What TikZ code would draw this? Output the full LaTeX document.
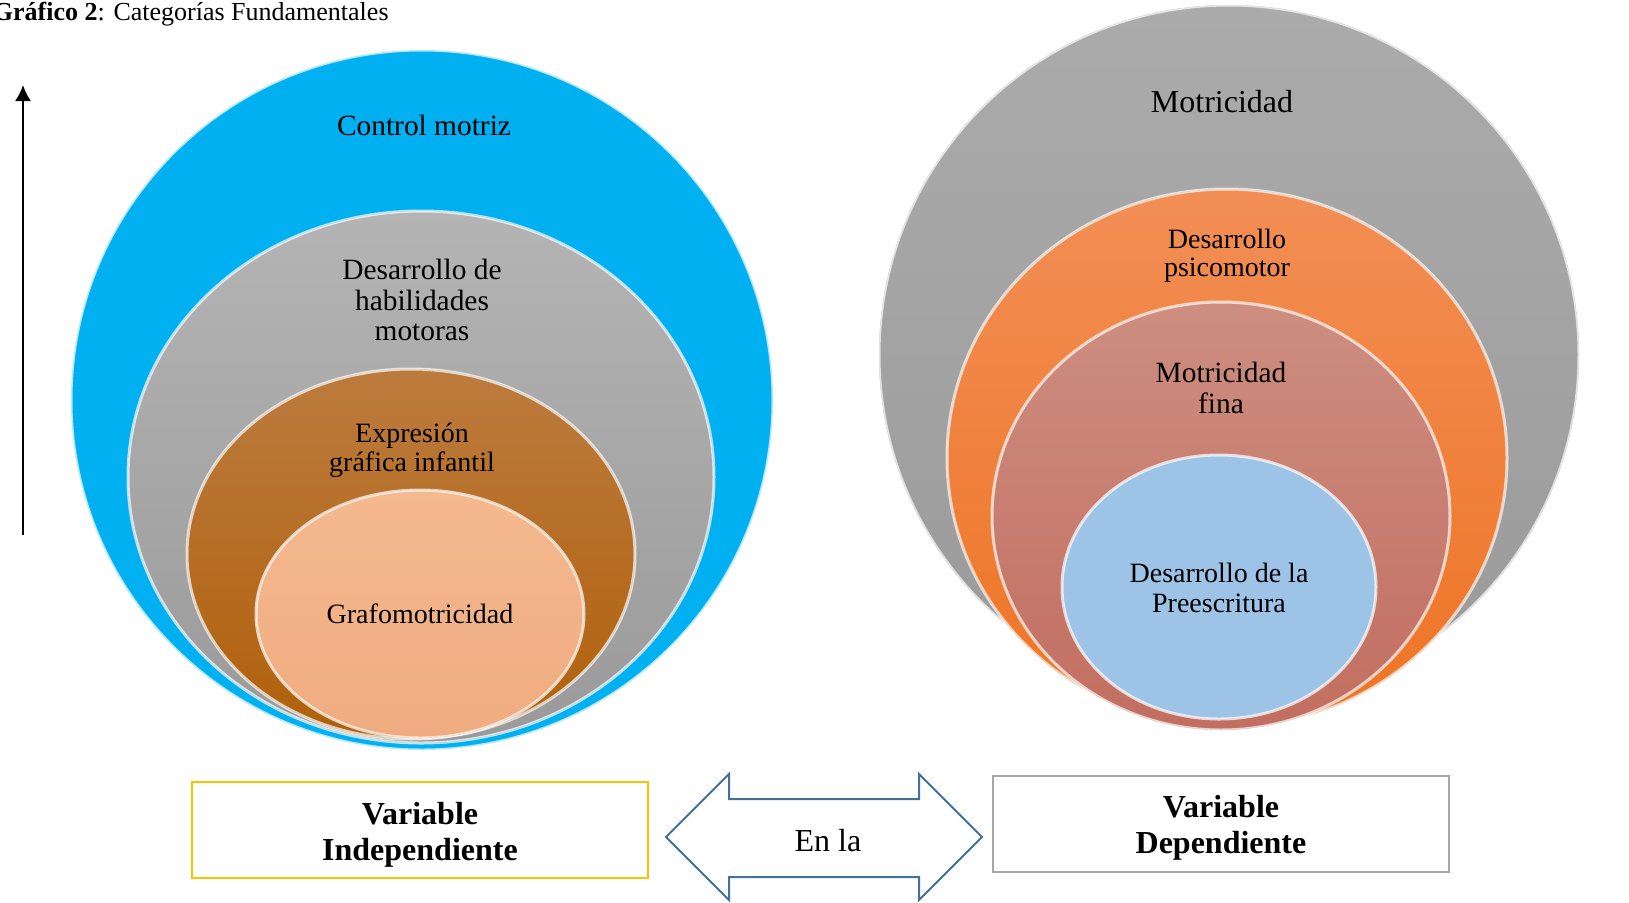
\documentclass[tikz,border=0pt]{standalone}
\usepackage{fontspec}
\setmainfont{Liberation Serif}
\usepackage{tikz}
\usetikzlibrary{arrows.meta}

\definecolor{cielo}{HTML}{00B0F0}
\definecolor{grisT}{HTML}{B4B4B4}
\definecolor{grisB}{HTML}{9A9A9A}
\definecolor{cafeT}{HTML}{BC7B3E}
\definecolor{cafeB}{HTML}{B0600A}
\definecolor{duraznoT}{HTML}{F5B98F}
\definecolor{duraznoB}{HTML}{F0AC80}
\definecolor{naranjaT}{HTML}{F28E55}
\definecolor{naranjaB}{HTML}{EE7424}
\definecolor{rosaT}{HTML}{CD8E80}
\definecolor{rosaB}{HTML}{C26E60}
\definecolor{celeste}{HTML}{9DC3E6}
\definecolor{flecha}{HTML}{41719C}
\definecolor{amarillo}{HTML}{FFC000}
\definecolor{grisCaja}{HTML}{A6A6A6}

\begin{document}
\begin{tikzpicture}[x=0.5pt, y=-0.5pt,
    capa/.style={draw=white, draw opacity=0.7, line width=1.5pt},
    lbl/.style={align=center, inner sep=0pt, font=\fontsize{14}{14.6}\selectfont},
    lblg/.style={align=center, inner sep=0pt, font=\fontsize{14.7}{15.3}\selectfont},
    varbox/.style={draw, line width=1.2pt, minimum width=228pt, minimum height=48pt, align=center, font=\fontsize{16}{18.2}\selectfont\bfseries}]
    \useasboundingbox (0,0) rectangle (1629,902);

    \node[anchor=base east, inner sep=0pt, font=\fontsize{13}{15}\selectfont] (titulo) at (389,20) {\textbf{Gráfico 2}: Categorías Fundamentales};

    \coordinate (ejeabajo) at (23,535);
    \coordinate (ejearriba) at (23,85);
    \draw[line width=1pt, -{Latex[length=8pt,width=8pt]}] (ejeabajo) -- (ejearriba);

    \filldraw[capa, fill=cielo] (422,400) ellipse [x radius=351, y radius=350];
    \filldraw[capa, top color=grisT, bottom color=grisB] (421,477) ellipse [x radius=293, y radius=266];
    \filldraw[capa, top color=cafeT, bottom color=cafeB] (411,554) ellipse [x radius=224, y radius=185];
    \filldraw[capa, top color=duraznoT, bottom color=duraznoB] (420,614) ellipse [x radius=164, y radius=124];

    \filldraw[capa, top color=grisT!95!black, bottom color=grisB] (1229,355) ellipse [x radius=350, y radius=350];
    \filldraw[capa, top color=naranjaT, bottom color=naranjaB] (1227,458) ellipse [x radius=280, y radius=269];
    \filldraw[capa, top color=rosaT, bottom color=rosaB] (1221,516) ellipse [x radius=229, y radius=214];
    \filldraw[capa, fill=celeste] (1219,587) ellipse [x radius=157, y radius=132];

    \node[lblg] (control) at (424,125) {Control motriz};
    \node[lblg] (habilidades) at (422,300) {Desarrollo de\\habilidades\\motoras};
    \node[lbl] (expresion) at (412,450) {Expresión\\gráfica infantil};
    \node[lbl] (grafo) at (420,614) {Grafomotricidad};

    \node[lbl, font=\fontsize{16}{17}\selectfont] (motricidad) at (1222,102) {Motricidad};
    \node[lbl, font=\fontsize{14}{14}\selectfont] (psico) at (1227,256) {Desarrollo\\psicomotor};
    \node[lblg] (fina) at (1221,388) {Motricidad\\fina};
    \node[lbl] (preescritura) at (1219,588) {Desarrollo de la\\Preescritura};

    \node[varbox, draw=amarillo] (indep) at (420,830) {\rule{0pt}{16pt}Variable\\Independiente};
    \node[varbox, draw=grisCaja] (dep) at (1221,824) {\rule{0pt}{15pt}Variable\\Dependiente};

    \draw[flecha, line width=1pt, line join=miter] (666,837) -- (729,774) -- (729,799) -- (919,799) -- (919,774) -- (982,837)
      -- (919,900) -- (919,877) -- (729,877) -- (729,900) -- cycle;
    \node[lbl, font=\fontsize{16}{17}\selectfont] (enla) at (828,841) {En la};
  \end{tikzpicture}
\end{document}
